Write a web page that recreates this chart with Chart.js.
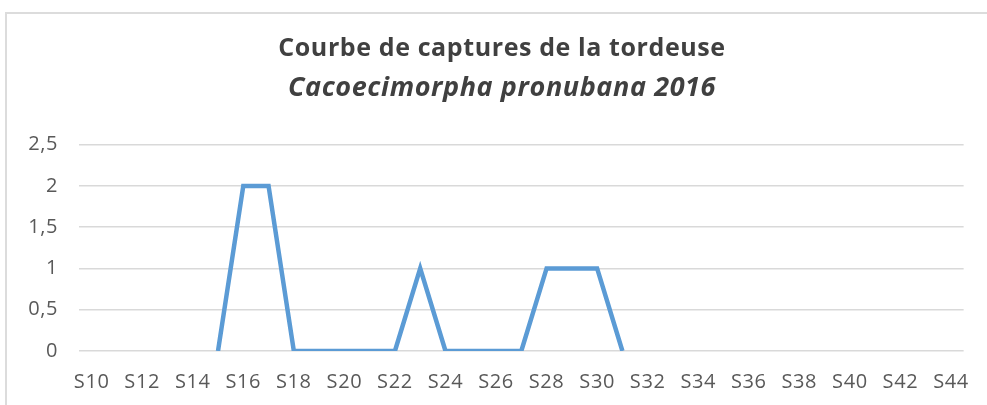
<!DOCTYPE html>
<html>
<head>
<meta charset="utf-8">
<script src="https://cdn.jsdelivr.net/npm/chart.js@4"></script>
<style>
  html, body { margin: 0; padding: 0; background: #fff; }
  #frame { position: absolute; left: 5px; top: 12px; width: 990px; height: 400px;
           border-top: 2px solid #dcdcdc; border-left: 2px solid #dcdcdc; }
  #wrap { position: absolute; left: 0; top: 0; width: 987px; height: 405px; }
</style>
</head>
<body>
<div id="frame"></div>
<div id="wrap"><canvas id="c"></canvas></div>
<script>
// Weeks S10..S44, captures only recorded S15..S31
const weeks = ['S10','S11','S12','S13','S14','S15','S16','S17','S18','S19','S20','S21',
  'S22','S23','S24','S25','S26','S27','S28','S29','S30','S31','S32','S33','S34','S35',
  'S36','S37','S38','S39','S40','S41','S42','S43','S44'];
const captures = [null,null,null,null,null,0,2,2,0,0,0,0,
  0,1,0,0,0,0,1,1,1,0,null,null,null,null,
  null,null,null,null,null,null,null,null,null];

const FONT = "'Open Sans', 'Liberation Sans', sans-serif";

// Excel picture is a bit stretched sideways — widen text a little.
const spacing = {
  id: 'spacing',
  beforeDraw(chart) { chart.ctx.letterSpacing = '0.6px'; },
  afterDraw(chart) { chart.ctx.letterSpacing = '0px'; }
};

new Chart(document.getElementById('c'), {
  type: 'line',
  data: {
    labels: weeks,
    datasets: [{
      data: captures,
      borderColor: '#5b9bd5',
      borderWidth: 4.5,
      pointRadius: 0,
      tension: 0,
      spanGaps: false
    }]
  },
  options: {
    responsive: true,
    maintainAspectRatio: false,
    animation: false,
    layout: { padding: { left: 24, right: 7, top: 0, bottom: 0 } },
    plugins: {
      legend: { display: false },
      tooltip: { enabled: false },
      title: {
        display: true,
        text: 'Courbe de captures de la tordeuse',
        color: '#404040',
        font: { family: FONT, size: 25, weight: 'bold', lineHeight: 1.3 },
        padding: { top: 33, bottom: 5 }
      },
      subtitle: {
        display: true,
        text: 'Cacoecimorpha pronubana 2016',
        color: '#404040',
        font: { family: FONT, size: 27, weight: 'bold', style: 'italic', lineHeight: 1.3 },
        padding: { top: 0, bottom: 39 }
      }
    },
    scales: {
      x: {
        offset: true,
        grid: { display: false, drawTicks: false },
        border: { display: false },
        ticks: {
          autoSkip: false,
          maxRotation: 0,
          padding: 19,
          color: '#595959',
          font: { family: FONT, size: 20 },
          callback: (v, i) => i % 2 === 0 ? weeks[i] : ''
        },
        afterFit: s => { s.height = 54; }
      },
      y: {
        min: 0,
        max: 2.5,
        grid: { color: '#d9d9d9', lineWidth: 1.5, drawTicks: false },
        border: { display: false },
        ticks: {
          stepSize: 0.5,
          padding: 21,
          color: '#595959',
          font: { family: FONT, size: 20 },
          callback: v => String(v).replace('.', ',')
        },
        afterFit: s => { s.width = 55; }
      }
    }
  },
  plugins: [spacing]
});
</script>
</body>
</html>
